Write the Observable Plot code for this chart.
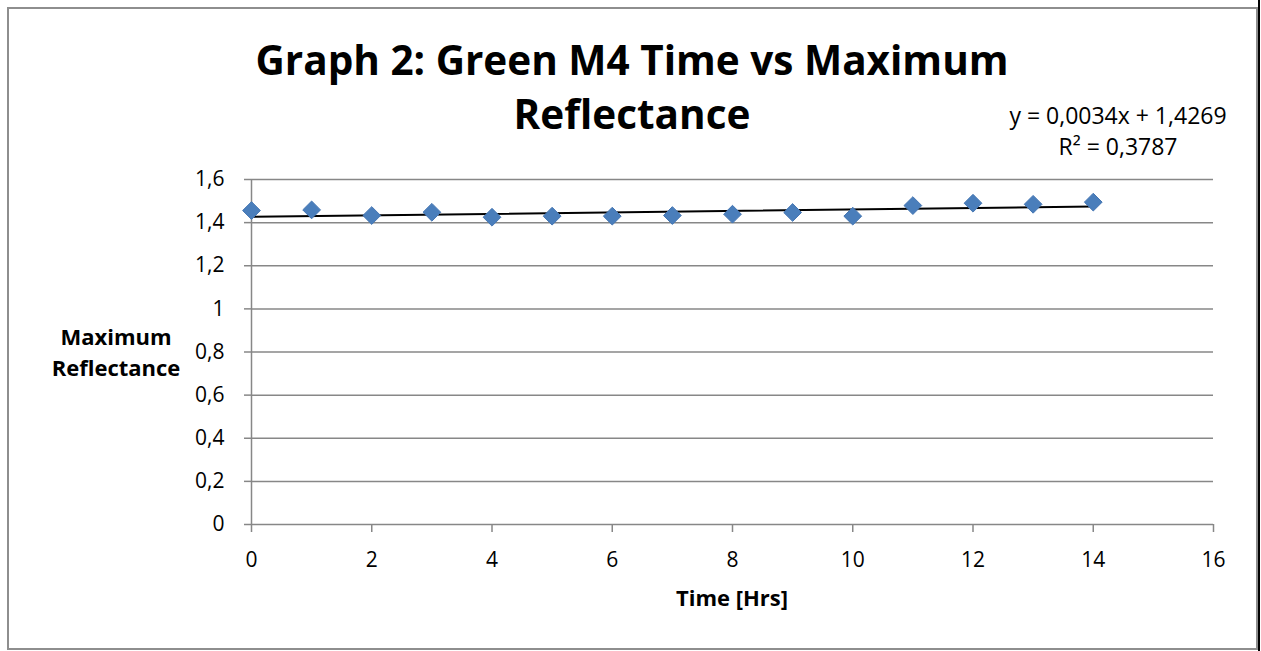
<!DOCTYPE html>
<html><head><meta charset="utf-8">
<script src="https://cdn.jsdelivr.net/npm/d3@7"></script>
<script src="https://cdn.jsdelivr.net/npm/@observablehq/plot@0.6"></script>
<style>
body{margin:0;background:#fff;}
#wrap{position:relative;width:1261px;height:651px;overflow:hidden;font-family:"Open Sans",sans-serif;background:#fff;}
#frame{position:absolute;left:7px;top:7px;width:1247px;height:639px;border:2px solid #8e8e8e;pointer-events:none;}
#edge{position:absolute;left:1258px;top:0;width:2px;height:651px;background:#000;}
#wrap svg{position:absolute;left:0;top:0;}
</style></head><body><div id="wrap"><div id="frame"></div><div id="edge"></div></div>
<script>
const hours = [0, 1, 2, 3, 4, 5, 6, 7, 8, 9, 10, 11, 12, 13, 14];
const reflectance = [1.456, 1.459, 1.433, 1.448, 1.425, 1.430, 1.430, 1.433, 1.439, 1.447, 1.430, 1.479, 1.490, 1.485, 1.495];
const slope = 0.0034;
const intercept = 1.4269;
const rSquared = "0,3787";
const xTicks = [0, 2, 4, 6, 8, 10, 12, 14, 16];
const yTicks = [0, 0.2, 0.4, 0.6, 0.8, 1, 1.2, 1.4, 1.6];
const titleLines = ["Graph 2: Green M4 Time vs Maximum", "Reflectance"];
const xLabel = "Time [Hrs]";
const yLabelLines = ["Maximum", "Reflectance"];
const equationLines = ["y = 0,0034x + 1,4269", "R\u00b2 = " + rSquared];

const data = hours.map((h, i) => ({hour: h, value: reflectance[i]}));
const trendX = [hours[0], hours[hours.length - 1]];
const trend = trendX.map(x => ({hour: x, value: slope * x + intercept}));
const fmt = d => String(d).replace(".", ",");

const chart = Plot.plot({
  width: 1261, height: 651,
  marginLeft: 251, marginRight: 48, marginTop: 179, marginBottom: 127,
  x: {domain: [0, 16]},
  y: {domain: [0, 1.6]},
  style: {fontFamily: "'Open Sans', sans-serif", fontSize: "21px", color: "#000", background: "transparent", overflow: "visible"},
  marks: [
    Plot.gridY(yTicks.slice(1), {stroke: "#878787", strokeOpacity: 1, strokeWidth: 1.5}),
    Plot.ruleY([0], {stroke: "#878787", strokeWidth: 1.5}),
    Plot.ruleX([0], {stroke: "#878787", strokeWidth: 1.5}),
    Plot.axisY(yTicks, {tickSize: 7, tickPadding: 20, tickFormat: fmt, stroke: "#878787", strokeWidth: 1.5, fill: "#000", label: null}),
    Plot.axisX(xTicks, {tickSize: 8, tickPadding: 20, tickFormat: fmt, stroke: "#878787", strokeWidth: 1.5, fill: "#000", label: null}),
    Plot.line(trend, {x: "hour", y: "value", stroke: "#000", strokeWidth: 2}),
    Plot.dot(data, {x: "hour", y: "value", symbol: "diamond2", r: 8, fill: "#4a7ebb", stroke: "#4576b3", strokeWidth: 1})
  ]
});
document.getElementById("wrap").appendChild(chart);

const svg = d3.select(chart);
const g = svg.append("g").attr("fill", "#000").attr("font-family", "'Open Sans', sans-serif").attr("text-anchor", "middle");
g.selectAll("text.title").data(titleLines).join("text").attr("class", "title")
  .attr("x", 632).attr("y", (d, i) => 75 + i * 54)
  .attr("font-size", 40.5).attr("font-weight", "bold").text(d => d);
g.append("text").attr("x", 732).attr("y", 606).attr("font-size", 22).attr("font-weight", "bold").text(xLabel);
g.selectAll("text.ylab").data(yLabelLines).join("text").attr("class", "ylab")
  .attr("x", 116).attr("y", (d, i) => 345 + i * 31)
  .attr("font-size", 22).attr("font-weight", "bold").text(d => d);
g.selectAll("text.eq").data(equationLines).join("text").attr("class", "eq")
  .attr("x", 1118).attr("y", (d, i) => 124 + i * 31)
  .attr("font-size", 23).text(d => d);
</script></body></html>
